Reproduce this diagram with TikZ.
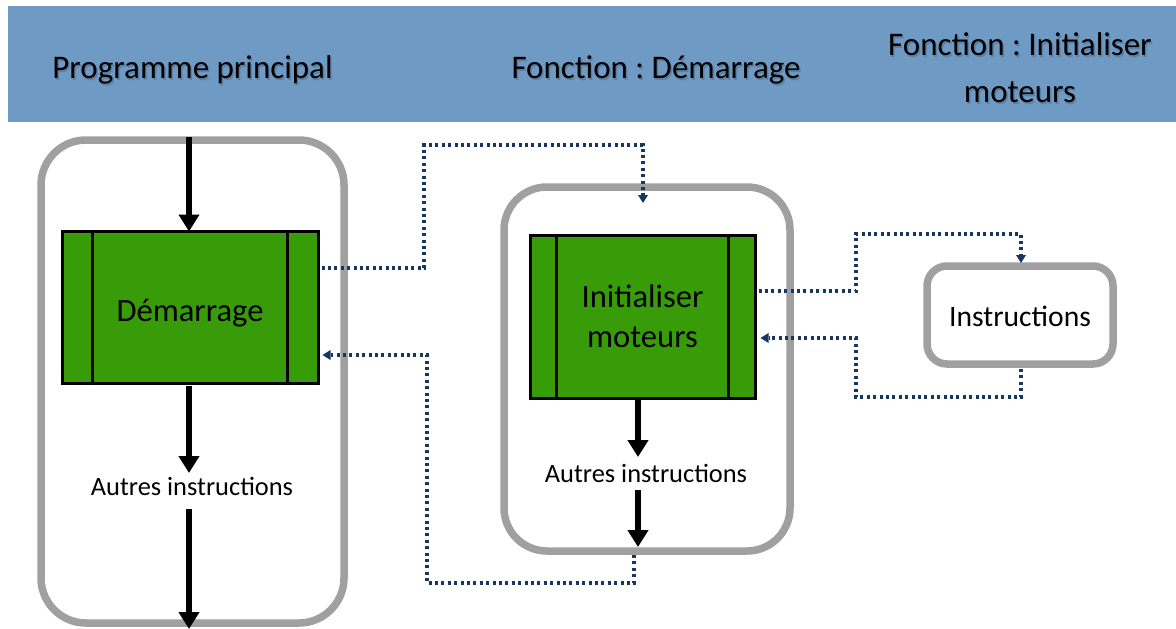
\documentclass[tikz,border=0pt]{standalone}
\usepackage{fontspec}
\setmainfont{Carlito}
\usetikzlibrary{arrows.meta,calc}
\frenchspacing
\definecolor{hdrblue}{HTML}{6E9AC4}
\definecolor{hdrshadow}{HTML}{4F6F90}
\definecolor{boxgreen}{HTML}{389B08}
\definecolor{framegray}{HTML}{A0A0A0}
\definecolor{navy}{HTML}{17375E}
\tikzset{
  frame/.style={draw=framegray, line width=7.5pt, rounded corners=#1, inner sep=0pt, fill=white},
  procbox/.style={draw=black, line width=3pt, fill=boxgreen, inner sep=0pt, align=center,
    font=\fontsize{32.6}{40}\selectfont},
  flow/.style={line width=6pt, -{Triangle[width=20pt,length=17pt]}},
  callarrow/.style={draw=navy, line width=3.2pt, dash pattern=on 3pt off 3.4pt,
    -{Triangle[width=10pt,length=8pt,line width=0pt]}},
  hdr/.style={font=\fontsize{33}{47}\selectfont, align=center, text=black},
  hdrsh/.style={hdr, text=hdrshadow, opacity=0.6},
  lbl/.style={font=\fontsize{26.4}{32}\selectfont, inner sep=0pt}
}
\begin{document}
\begin{tikzpicture}[x=1pt,y=-1pt]
\useasboundingbox (0,0) rectangle (1176,629);
% header band
\fill[hdrblue] (8,6) rectangle (1176,122);
\node[hdrsh] at (194,71.5) {Programme principal};
\node[hdr] (h1) at (192.5,70) {Programme principal};
\node[hdrsh] at (657.5,71.5) {Fonction : Démarrage};
\node[hdr] (h2) at (656,70) {Fonction : Démarrage};
\node[hdrsh] at (1021.5,69.5) {Fonction : Initialiser\\moteurs};
\node[hdr] (h3) at (1020,68) {Fonction : Initialiser\\moteurs};
% frames
\node[frame=45pt, minimum width=303pt, minimum height=483pt] (main) at (192.5,381.5) {};
\node[frame=43pt, minimum width=286pt, minimum height=364pt] (fdem) at (647,369) {};
\node[frame=20pt, minimum width=186pt, minimum height=98pt, text height=23pt, text depth=0pt,
  font=\fontsize{29.6}{34}\selectfont] (instr) at (1020,315) {Instructions};
% process boxes
\node[procbox, minimum width=256pt, minimum height=152pt, text height=36pt, text depth=7pt] (dem) at (190,307) {Démarrage};
\draw[line width=3pt] ([xshift=32pt]dem.north west) -- ([xshift=32pt]dem.south west);
\draw[line width=3pt] ([xshift=-32pt]dem.north east) -- ([xshift=-32pt]dem.south east);
\node[procbox, minimum width=225pt, minimum height=163pt] (init) at (642.5,316.5) {Initialiser\\moteurs};
\draw[line width=3pt] ([xshift=28pt]init.north west) -- ([xshift=28pt]init.south west);
\draw[line width=3pt] ([xshift=-28pt]init.north east) -- ([xshift=-28pt]init.south east);
% labels
\node[lbl] (a1) at (192,486) {Autres instructions};
\node[lbl] (a2) at (646,473) {Autres instructions};
% coordinates
\coordinate (top1) at (189,137);
\coordinate (bot1) at (189,629);
% main flow arrows
\draw[flow] (top1) -- (189,231.5);
\draw[flow] (189,386) -- (189,473);
\draw[flow] (189,509) -- (bot1);
\draw[flow] (638,400) -- (638,457);
\draw[flow] (638,490) -- (638,547);
% call arrows
\draw[callarrow] ([yshift=39pt,xshift=2pt]dem.east) -| (424,145) -| (643,203);
\draw[callarrow] ([yshift=25.5pt,xshift=2pt]init.east) -| (856,234) -| (1021,263);
\draw[callarrow] (1021,369) |- (856,397) |- ([yshift=-21.5pt,xshift=4pt]init.east);
\draw[callarrow] (634,555) |- (427,583) -- (427,355) -- ([yshift=-48pt,xshift=3pt]dem.east);
\end{tikzpicture}
\end{document}
